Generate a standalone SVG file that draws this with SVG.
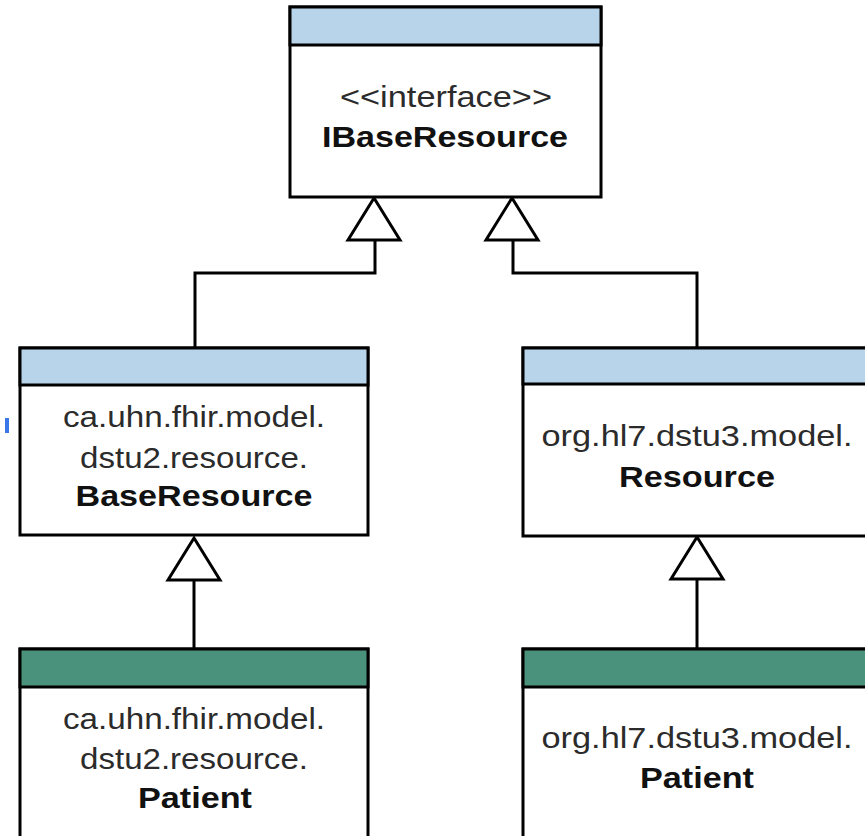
<svg xmlns="http://www.w3.org/2000/svg" xmlns:xlink="http://www.w3.org/1999/xlink" width="865" height="836" viewBox="0 0 865 836">
<style>
.box{fill:#ffffff;stroke:#000;stroke-width:3}
.hdrB{fill:#b8d4ea;stroke:#000;stroke-width:3}
.hdrG{fill:#4a927b;stroke:#000;stroke-width:3}
.t{font-family:"Liberation Sans",Arial,sans-serif;font-size:29px;fill:#2b2b2b;text-anchor:middle}
.b{font-weight:bold;fill:#111}
.conn{fill:none;stroke:#000;stroke-width:3}
.tri{fill:#fff;stroke:#000;stroke-width:3;stroke-linejoin:miter}
</style>
<defs>
<polygon id="tri" class="tri" points="0,0 26,42 -26,42"/>
</defs>
<rect x="5" y="418" width="4" height="15" fill="#3b78e7"/>
<g id="connectors">
<path class="conn" d="M375,239 V273 H195 V348"/>
<path class="conn" d="M513,239 V273 H697 V348"/>
<path class="conn" d="M194,580 V649"/>
<path class="conn" d="M697,578 V649"/>
<use xlink:href="#tri" x="374" y="198"/>
<use xlink:href="#tri" x="512" y="198"/>
<use xlink:href="#tri" x="194" y="538"/>
<use xlink:href="#tri" x="697" y="537"/>
</g>
<g id="IBaseResource">
<rect class="box" x="290" y="7" width="311" height="190"/>
<rect class="hdrB" x="290" y="7" width="311" height="38"/>
<text class="t" x="446" y="107" textLength="212" lengthAdjust="spacingAndGlyphs">&lt;&lt;interface&gt;&gt;</text>
<text class="t b" x="445" y="147" textLength="246" lengthAdjust="spacingAndGlyphs">IBaseResource</text>
</g>
<g id="BaseResource">
<rect class="box" x="20" y="348" width="348" height="187"/>
<rect class="hdrB" x="20" y="348" width="348" height="37"/>
<text class="t" x="194" y="427" textLength="262" lengthAdjust="spacingAndGlyphs">ca.uhn.fhir.model.</text>
<text class="t" x="194" y="468" textLength="228" lengthAdjust="spacingAndGlyphs">dstu2.resource.</text>
<text class="t b" x="194" y="506" textLength="237" lengthAdjust="spacingAndGlyphs">BaseResource</text>
</g>
<g id="Resource">
<rect class="box" x="523" y="348" width="348" height="188"/>
<rect class="hdrB" x="523" y="348" width="348" height="36"/>
<text class="t" x="697" y="446" textLength="311" lengthAdjust="spacingAndGlyphs">org.hl7.dstu3.model.</text>
<text class="t b" x="697" y="487" textLength="156" lengthAdjust="spacingAndGlyphs">Resource</text>
</g>
<g id="Dstu2Patient">
<rect class="box" x="20" y="649" width="348" height="200"/>
<rect class="hdrG" x="20" y="649" width="348" height="38"/>
<text class="t" x="194" y="729" textLength="262" lengthAdjust="spacingAndGlyphs">ca.uhn.fhir.model.</text>
<text class="t" x="194" y="769" textLength="228" lengthAdjust="spacingAndGlyphs">dstu2.resource.</text>
<text class="t b" x="195" y="808" textLength="114" lengthAdjust="spacingAndGlyphs">Patient</text>
</g>
<g id="Dstu3Patient">
<rect class="box" x="523" y="649" width="348" height="200"/>
<rect class="hdrG" x="523" y="649" width="348" height="38"/>
<text class="t" x="697" y="748" textLength="311" lengthAdjust="spacingAndGlyphs">org.hl7.dstu3.model.</text>
<text class="t b" x="697" y="788" textLength="114" lengthAdjust="spacingAndGlyphs">Patient</text>
</g>
</svg>
